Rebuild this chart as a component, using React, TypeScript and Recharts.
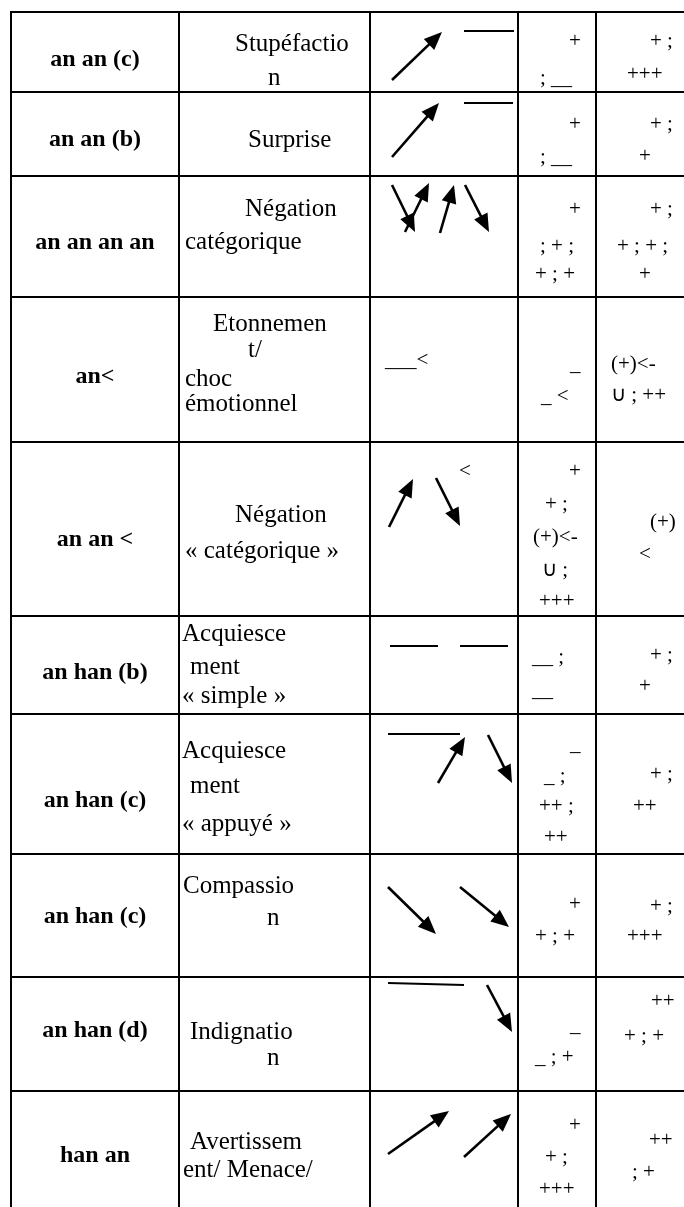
import React from 'react';
import { ScatterChart, XAxis, YAxis, Scatter, ReferenceLine } from 'recharts';

const W = 684;
const H = 1207;

// table grid (page pixel units)
const rowEdges = [12, 92, 176, 297, 442, 616, 714, 854, 977, 1091];
const colEdges = [11, 179, 370, 518, 596];

// column 1: codes (centered)
const codeLabels = [
  { x: 95, y: 66, t: 'an an (c)' },
  { x: 95, y: 146, t: 'an an (b)' },
  { x: 95, y: 249, t: 'an an an an' },
  { x: 95, y: 383, t: 'an<' },
  { x: 95, y: 546, t: 'an an <' },
  { x: 95, y: 679, t: 'an han (b)' },
  { x: 95, y: 807, t: 'an han (c)' },
  { x: 95, y: 923, t: 'an han (c)' },
  { x: 95, y: 1037, t: 'an han (d)' },
  { x: 95, y: 1162, t: 'han an' },
];

// column 2: meanings
const meaningLines = [
  { x: 235, y: 51, t: 'Stupéfactio' },
  { x: 268, y: 85, t: 'n' },
  { x: 248, y: 147, t: 'Surprise' },
  { x: 245, y: 216, t: 'Négation' },
  { x: 185, y: 249, t: 'catégorique' },
  { x: 213, y: 331, t: 'Etonnemen' },
  { x: 248, y: 357, t: 't/' },
  { x: 185, y: 386, t: 'choc' },
  { x: 185, y: 411, t: 'émotionnel' },
  { x: 235, y: 522, t: 'Négation' },
  { x: 185, y: 558, t: '« catégorique »' },
  { x: 182, y: 641, t: 'Acquiesce' },
  { x: 190, y: 674, t: 'ment' },
  { x: 182, y: 703, t: '« simple »' },
  { x: 182, y: 758, t: 'Acquiesce' },
  { x: 190, y: 793, t: 'ment' },
  { x: 182, y: 831, t: '« appuyé »' },
  { x: 183, y: 893, t: 'Compassio' },
  { x: 267, y: 925, t: 'n' },
  { x: 190, y: 1039, t: 'Indignatio' },
  { x: 267, y: 1065, t: 'n' },
  { x: 190, y: 1149, t: 'Avertissem' },
  { x: 183, y: 1177, t: 'ent/ Menace/' },
];

// columns 3-5: notation symbols
const notationLines = [
  { x: 569, y: 47, t: '+' }, { x: 540, y: 84, t: '; __' }, { x: 650, y: 47, t: '+ ;' }, { x: 627, y: 80, t: '+++' },
  { x: 569, y: 130, t: '+' }, { x: 540, y: 163, t: '; __' }, { x: 650, y: 130, t: '+ ;' }, { x: 639, y: 162, t: '+' },
  { x: 569, y: 215, t: '+' }, { x: 540, y: 252, t: '; + ;' }, { x: 535, y: 280, t: '+ ; +' },
  { x: 650, y: 215, t: '+ ;' }, { x: 617, y: 252, t: '+ ; + ;' }, { x: 639, y: 280, t: '+' },
  { x: 385, y: 366, t: '___<' }, { x: 570, y: 370, t: '_' }, { x: 541, y: 402, t: '_ <' },
  { x: 611, y: 370, t: '(+)<-' }, { x: 611, y: 401, t: '∪ ; ++' },
  { x: 459, y: 477, t: '<' }, { x: 569, y: 477, t: '+' }, { x: 545, y: 510, t: '+ ;' }, { x: 533, y: 543, t: '(+)<-' },
  { x: 542, y: 576, t: '∪ ;' }, { x: 539, y: 607, t: '+++' }, { x: 650, y: 528, t: '(+)' }, { x: 639, y: 560, t: '<' },
  { x: 532, y: 663, t: '__ ;' }, { x: 532, y: 696, t: '__' }, { x: 650, y: 661, t: '+ ;' }, { x: 639, y: 692, t: '+' },
  { x: 570, y: 750, t: '_' }, { x: 544, y: 782, t: '_ ;' }, { x: 539, y: 812, t: '++ ;' }, { x: 544, y: 843, t: '++' },
  { x: 650, y: 780, t: '+ ;' }, { x: 633, y: 812, t: '++' },
  { x: 569, y: 910, t: '+' }, { x: 535, y: 942, t: '+ ; +' }, { x: 650, y: 912, t: '+ ;' }, { x: 627, y: 942, t: '+++' },
  { x: 570, y: 1031, t: '_' }, { x: 535, y: 1063, t: '_ ; +' }, { x: 651, y: 1007, t: '++' }, { x: 624, y: 1042, t: '+ ; +' },
  { x: 569, y: 1131, t: '+' }, { x: 545, y: 1163, t: '+ ;' }, { x: 539, y: 1195, t: '+++' },
  { x: 649, y: 1146, t: '++' }, { x: 632, y: 1178, t: '; +' },
];

// plain strokes (level contours)
const dashes = [
  { x1: 464, y1: 31, x2: 514, y2: 31 },
  { x1: 464, y1: 103, x2: 513, y2: 103 },
  { x1: 390, y1: 646, x2: 438, y2: 646 },
  { x1: 460, y1: 646, x2: 508, y2: 646 },
  { x1: 388, y1: 734, x2: 460, y2: 734 },
  { x1: 388, y1: 983, x2: 464, y2: 985 },
];

// arrows: tail -> tip
const arrows = [
  { x1: 392, y1: 80, x2: 442, y2: 32 },
  { x1: 392, y1: 157, x2: 439, y2: 103 },
  { x1: 392, y1: 185, x2: 415, y2: 232 },
  { x1: 405, y1: 232, x2: 429, y2: 183 },
  { x1: 440, y1: 233, x2: 454, y2: 185 },
  { x1: 465, y1: 185, x2: 489, y2: 232 },
  { x1: 389, y1: 527, x2: 413, y2: 479 },
  { x1: 436, y1: 478, x2: 460, y2: 526 },
  { x1: 438, y1: 783, x2: 465, y2: 737 },
  { x1: 488, y1: 735, x2: 512, y2: 783 },
  { x1: 388, y1: 887, x2: 436, y2: 934 },
  { x1: 460, y1: 887, x2: 509, y2: 927 },
  { x1: 487, y1: 985, x2: 512, y2: 1032 },
  { x1: 388, y1: 1154, x2: 449, y2: 1111 },
  { x1: 464, y1: 1157, x2: 511, y2: 1114 },
];

const SERIF = '"Liberation Serif", "Times New Roman", serif';

const makeText = (size: number, weight: string, anchor: string) => (p: any) => (
  <text
    x={p.cx}
    y={p.cy}
    fontFamily={SERIF}
    fontSize={size}
    fontWeight={weight}
    textAnchor={anchor}
    fill="#000"
    style={{ whiteSpace: 'pre' }}
  >
    {p.payload.t}
  </text>
);

const ArrowShape = (p: any) => {
  const { x1, y1, x2, y2 } = p;
  const dx = x2 - x1;
  const dy = y2 - y1;
  const len = Math.hypot(dx, dy) || 1;
  const ux = dx / len;
  const uy = dy / len;
  const hl = 18;
  const hw = 7.5;
  const bx = x2 - ux * hl;
  const by = y2 - uy * hl;
  const pts = `${x2},${y2} ${bx - uy * hw},${by + ux * hw} ${bx + uy * hw},${by - ux * hw}`;
  return (
    <g>
      <line x1={x1} y1={y1} x2={bx + ux * 3} y2={by + uy * 3} stroke="#000" strokeWidth={2.6} />
      <polygon points={pts} fill="#000" />
    </g>
  );
};

export default function App() {
  return (
    <div style={{ position: 'absolute', left: 0, top: 0, willChange: 'transform' }}>
      <ScatterChart width={W} height={H} margin={{ top: 0, right: 0, bottom: 0, left: 0 }}>
        <XAxis type="number" dataKey="x" domain={[0, W]} hide allowDataOverflow />
        <YAxis type="number" dataKey="y" domain={[0, H]} reversed hide allowDataOverflow />
        {rowEdges.map((v, i) => (
          <ReferenceLine
            key={`r${i}`}
            segment={[{ x: colEdges[0], y: v }, { x: W, y: v }]}
            stroke="#000"
            strokeWidth={2}
            ifOverflow="visible"
          />
        ))}
        {colEdges.map((v, i) => (
          <ReferenceLine
            key={`c${i}`}
            segment={[{ x: v, y: rowEdges[0] - 1 }, { x: v, y: H }]}
            stroke="#000"
            strokeWidth={2}
            ifOverflow="visible"
          />
        ))}
        {dashes.map((d, i) => (
          <ReferenceLine
            key={`d${i}`}
            segment={[{ x: d.x1, y: d.y1 }, { x: d.x2, y: d.y2 }]}
            stroke="#000"
            strokeWidth={2}
            ifOverflow="visible"
          />
        ))}
        {arrows.map((a, i) => (
          <ReferenceLine
            key={`a${i}`}
            segment={[{ x: a.x1, y: a.y1 }, { x: a.x2, y: a.y2 }]}
            stroke="#000"
            ifOverflow="visible"
            shape={ArrowShape}
          />
        ))}
        <Scatter data={codeLabels} shape={makeText(24, 'bold', 'middle')} isAnimationActive={false} />
        <Scatter data={meaningLines} shape={makeText(25, 'normal', 'start')} isAnimationActive={false} />
        <Scatter data={notationLines} shape={makeText(21, 'normal', 'start')} isAnimationActive={false} />
      </ScatterChart>
    </div>
  );
}
